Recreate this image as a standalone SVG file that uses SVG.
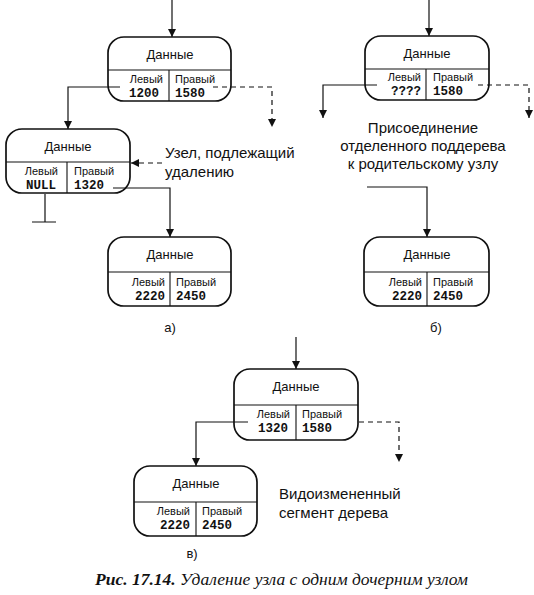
<svg xmlns="http://www.w3.org/2000/svg" width="534" height="595" viewBox="0 0 534 595">
  <style>
    .box { fill: #fff; stroke: #111; stroke-width: 1.7; }
    .div { stroke: #111; stroke-width: 1.1; fill: none; }
    .ttl { font-family: "Liberation Sans", Arial, sans-serif; font-size: 13px; text-anchor: middle; fill: #111; }
    .lbl { font-family: "Liberation Sans", Arial, sans-serif; font-size: 11px; fill: #111; }
    .num { font-family: "Liberation Mono", "Courier New", monospace; font-size: 12.5px; font-weight: bold; fill: #111; }
    .r { text-anchor: end; }
    .note { font-family: "Liberation Sans", Arial, sans-serif; font-size: 15px; fill: #111; }
    .sub { font-family: "Liberation Sans", Arial, sans-serif; font-size: 13px; fill: #111; text-anchor: middle; }
    .cap { font-family: "Liberation Serif", "Times New Roman", serif; font-size: 17.5px; font-style: italic; fill: #111; }
    .ln { fill: none; stroke: #111; stroke-width: 1.2; }
    .dash { stroke-dasharray: 5 4; }
  </style>
  <defs>
    <marker id="arr" viewBox="0 0 10 10" refX="10" refY="5" markerWidth="8" markerHeight="8" markerUnits="userSpaceOnUse" orient="auto">
      <path d="M0,0 L10,5 L0,10 Z" fill="#111"/>
    </marker>
  </defs>
  <rect width="534" height="595" fill="#fff"/>

  <!-- а) parent -->
  <g id="nodeA1">
    <rect class="box" x="108" y="37" width="123" height="64" rx="16"/>
    <path class="div" d="M108,70 H231 M169,70 V101"/>
    <text class="ttl" x="170" y="59">Данные</text>
    <text class="lbl r" x="163" y="83">Левый</text>
    <text class="num r" x="159" y="97">1200</text>
    <text class="lbl" x="175" y="83">Правый</text>
    <text class="num" x="175" y="97">1580</text>
  </g>

  <!-- а) node to remove -->
  <g id="nodeA2">
    <rect class="box" x="6" y="129" width="124" height="64" rx="16"/>
    <path class="div" d="M6,162 H130 M67,162 V193"/>
    <text class="ttl" x="68" y="151">Данные</text>
    <text class="lbl r" x="58" y="175">Левый</text>
    <text class="num r" x="56" y="189">NULL</text>
    <text class="lbl" x="74" y="175">Правый</text>
    <text class="num" x="74" y="189">1320</text>
  </g>

  <!-- а) subtree -->
  <g id="nodeA3">
    <rect class="box" x="108" y="237" width="123" height="69" rx="16"/>
    <path class="div" d="M108,272 H231 M170,272 V306"/>
    <text class="ttl" x="170" y="259">Данные</text>
    <text class="lbl r" x="165" y="286">Левый</text>
    <text class="num r" x="165" y="300">2220</text>
    <text class="lbl" x="176" y="286">Правый</text>
    <text class="num" x="176" y="300">2450</text>
  </g>

  <g id="noteA">
    <text class="note" x="165" y="158">Узел, подлежащий</text>
    <text class="note" x="165" y="177">удалению</text>
    <text class="sub" x="170" y="332">а)</text>
  </g>

  <!-- б) parent -->
  <g id="nodeB1">
    <rect class="box" x="365" y="36" width="124" height="64" rx="16"/>
    <path class="div" d="M365,69 H489 M426,69 V100"/>
    <text class="ttl" x="427" y="58">Данные</text>
    <text class="lbl r" x="421" y="81">Левый</text>
    <text class="num r" x="421" y="95">????</text>
    <text class="lbl" x="433" y="81">Правый</text>
    <text class="num" x="433" y="95">1580</text>
  </g>

  <!-- б) subtree -->
  <g id="nodeB2">
    <rect class="box" x="364" y="237" width="125" height="69" rx="16"/>
    <path class="div" d="M364,272 H489 M427,272 V306"/>
    <text class="ttl" x="427" y="259">Данные</text>
    <text class="lbl r" x="422" y="286">Левый</text>
    <text class="num r" x="422" y="300">2220</text>
    <text class="lbl" x="433" y="286">Правый</text>
    <text class="num" x="433" y="300">2450</text>
  </g>

  <g id="noteB">
    <text class="note" x="423" y="133" text-anchor="middle">Присоединение</text>
    <text class="note" x="423" y="151" text-anchor="middle">отделенного поддерева</text>
    <text class="note" x="423" y="169" text-anchor="middle">к родительскому узлу</text>
    <text class="sub" x="436" y="332">б)</text>
  </g>

  <!-- в) parent -->
  <g id="nodeC1">
    <rect class="box" x="234" y="369" width="124" height="71" rx="16"/>
    <path class="div" d="M234,405 H358 M296,405 V440"/>
    <text class="ttl" x="296" y="391">Данные</text>
    <text class="lbl r" x="290" y="418">Левый</text>
    <text class="num r" x="288" y="432">1320</text>
    <text class="lbl" x="302" y="418">Правый</text>
    <text class="num" x="302" y="432">1580</text>
  </g>

  <!-- в) child -->
  <g id="nodeC2">
    <rect class="box" x="134" y="466" width="123" height="70" rx="16"/>
    <path class="div" d="M134,502 H257 M196,502 V536"/>
    <text class="ttl" x="196" y="488">Данные</text>
    <text class="lbl r" x="190" y="515">Левый</text>
    <text class="num r" x="190" y="529">2220</text>
    <text class="lbl" x="202" y="515">Правый</text>
    <text class="num" x="202" y="529">2450</text>
  </g>

  <g id="noteC">
    <text class="note" x="279" y="499">Видоизмененный</text>
    <text class="note" x="279" y="518">сегмент дерева</text>
    <text class="sub" x="192" y="558">в)</text>
  </g>

  <!-- connectors, drawn over the boxes so the pointer lines start inside the cells -->
  <g id="connectors">
    <!-- а) -->
    <path class="ln" d="M172,0 V37" marker-end="url(#arr)"/>
    <path class="ln" d="M120,87 H68 V129" marker-end="url(#arr)"/>
    <path class="ln dash" d="M213,87 H272 V127" marker-end="url(#arr)"/>
    <path class="ln dash" d="M162,163 H131" marker-end="url(#arr)"/>
    <path class="ln" d="M113,188 H170 V237" marker-end="url(#arr)"/>
    <path class="ln" d="M45,194 V222 M32,222 H56"/>
    <!-- б) -->
    <path class="ln" d="M429,0 V36" marker-end="url(#arr)"/>
    <path class="ln" d="M377,85 H323 V118" marker-end="url(#arr)"/>
    <path class="ln dash" d="M478,85 H529 V118" marker-end="url(#arr)"/>
    <path class="ln" d="M367,187 H427 V237" marker-end="url(#arr)"/>
    <!-- в) -->
    <path class="ln" d="M296,337 V369" marker-end="url(#arr)"/>
    <path class="ln" d="M248,422 H196 V466" marker-end="url(#arr)"/>
    <path class="ln dash" d="M359,422 H399 V462" marker-end="url(#arr)"/>
  </g>

  <text class="cap" x="95" y="585"><tspan font-weight="bold">Рис. 17.14.</tspan> Удаление узла с одним дочерним узлом</text>
</svg>
